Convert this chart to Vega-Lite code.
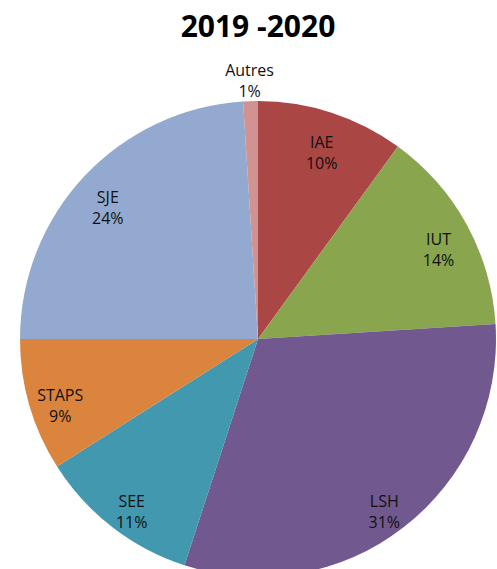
{
  "$schema": "https://vega.github.io/schema/vega-lite/v6.json",
  "width": 516,
  "height": 576,
  "padding": {"top": 13, "left": 0, "right": 0, "bottom": 0},
  "background": "white",
  "title": {"text": "2019 -2020", "font": "Open Sans", "fontSize": 30, "fontWeight": "bold", "color": "#000000", "offset": 8},
  "data": {"values": [
    {"ord": 1, "cat": "IAE", "pct": 10, "label": "IAE\n10%"},
    {"ord": 2, "cat": "IUT", "pct": 14, "label": "IUT\n14%"},
    {"ord": 3, "cat": "LSH", "pct": 31, "label": "LSH\n31%"},
    {"ord": 4, "cat": "SEE", "pct": 11, "label": "SEE\n11%"},
    {"ord": 5, "cat": "STAPS", "pct": 9, "label": "STAPS\n9%"},
    {"ord": 6, "cat": "SJE", "pct": 24, "label": "SJE\n24%"},
    {"ord": 7, "cat": "Autres", "pct": 1, "label": "Autres\n1%"}
  ]},
  "encoding": {
    "theta": {"field": "pct", "type": "quantitative", "stack": true},
    "order": {"field": "ord", "type": "quantitative"}
  },
  "layer": [
    {
      "mark": {"type": "arc", "outerRadius": 238},
      "encoding": {
        "color": {
          "field": "cat", "type": "nominal", "legend": null,
          "scale": {
            "domain": ["IAE", "IUT", "LSH", "SEE", "STAPS", "SJE", "Autres"],
            "range": ["#AA4643", "#89A54E", "#71588F", "#4198AF", "#DB843D", "#93A9CF", "#D19392"]
          }
        }
      }
    },
    {
      "mark": {"type": "text", "radius": 206, "font": "Open Sans", "fontSize": 16, "lineBreak": "\n", "lineHeight": 21, "color": "#111111"},
      "encoding": {
        "text": {"condition": {"test": "datum.cat !== 'Autres'", "field": "label", "type": "nominal"}, "value": ""}
      }
    },
    {
      "mark": {"type": "text", "radius": 268, "font": "Open Sans", "fontSize": 16, "lineBreak": "\n", "lineHeight": 21, "color": "#111111"},
      "encoding": {
        "text": {"condition": {"test": "datum.cat === 'Autres'", "field": "label", "type": "nominal"}, "value": ""}
      }
    }
  ],
  "config": {"view": {"stroke": null}}
}
